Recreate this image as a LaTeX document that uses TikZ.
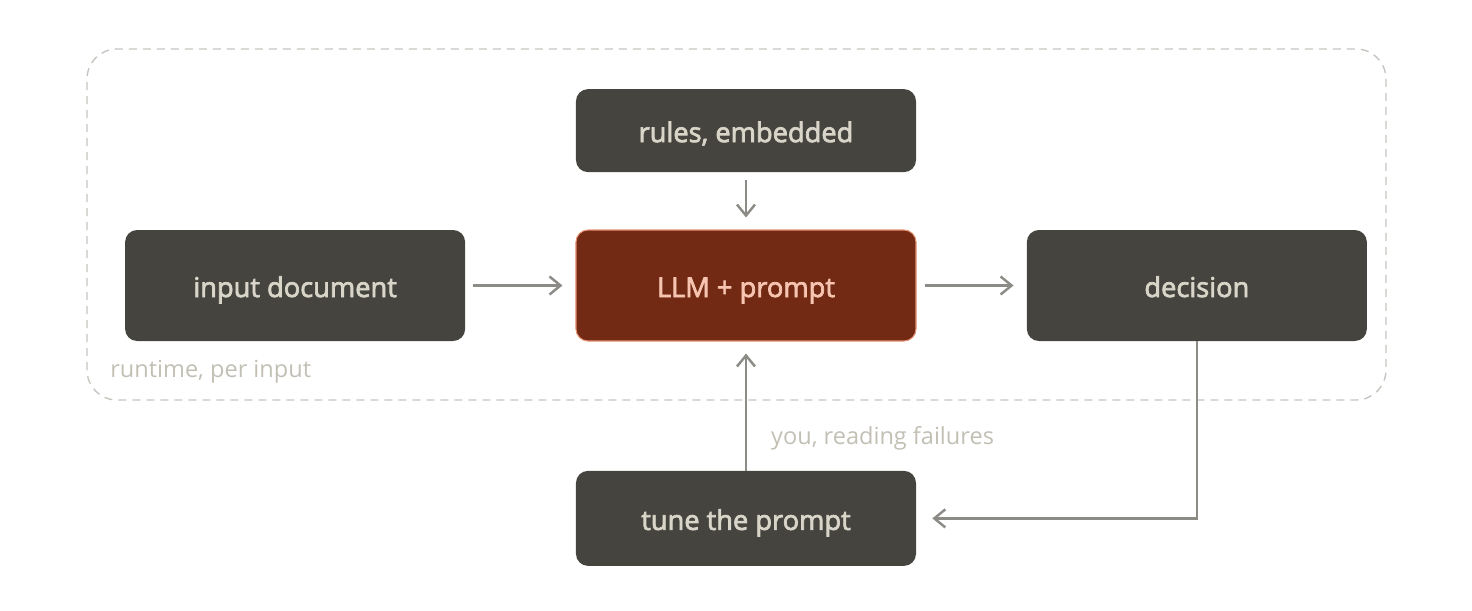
\documentclass[tikz,border=0pt]{standalone}
\usepackage{fontspec}
\setsansfont{Open Sans}
\newfontfamily\boxface[FakeBold=2.6]{Open Sans}
\usetikzlibrary{positioning, arrows.meta}

\definecolor{boxfill}{RGB}{69,68,63}
\definecolor{boxtext}{RGB}{217,213,201}
\definecolor{llmfill}{RGB}{114,42,20}
\definecolor{llmdraw}{RGB}{229,146,114}
\definecolor{llmtext}{RGB}{246,196,176}
\definecolor{arrowcol}{RGB}{140,139,133}
\definecolor{framecol}{RGB}{198,197,192}
\definecolor{labelcol}{RGB}{194,192,181}

\begin{document}
\begin{tikzpicture}[
    font=\sffamily,
    box/.style={rectangle, rounded corners=0.24cm, fill=boxfill, text=boxtext, minimum width=6.8cm, minimum height=2.22cm, align=center, text height=0.48cm, text depth=0.02cm, font=\boxface\fontsize{15.5}{18}\selectfont},
    llm/.style={box, fill=llmfill, draw=llmdraw, line width=0.6pt, text=llmtext},
    arrow/.style={-{Straight Barb[length=0.22cm, width=0.36cm]}, line width=1.4pt, draw=arrowcol},
    note/.style={text=labelcol, inner sep=0pt, font=\sffamily\fontsize{13.4}{16}\selectfont}
]
\useasboundingbox (-14.92,-6.49) rectangle (14.52,5.71);

% Runtime row
\node[llm] (llm) at (0,0) {LLM + prompt};
\node[box, left=2.2cm of llm] (input) {input document};
\node[box, right=2.2cm of llm] (decision) {decision};
\node[box, minimum height=1.66cm, above=1.14cm of llm] (rules) {rules, embedded};

\draw[arrow, shorten <=0.16cm, shorten >=0.26cm] (input) -- (llm);
\draw[arrow, shorten <=0.16cm, shorten >=0.26cm] (llm) -- (decision);
\draw[arrow, shorten <=0.16cm, shorten >=0.24cm] (rules) -- (llm);

% Runtime frame
\draw[framecol, line width=0.8pt, dash pattern=on 0.16cm off 0.12cm, rounded corners=0.6cm]
    (-13.18,-2.29) rectangle (12.8,4.73);
\node[note, anchor=west] (runtime) at (-12.72,-1.73) {runtime, per input};

% Tuning loop
\node[box, minimum height=1.9cm, below=2.58cm of llm] (tune) {tune the prompt};
\draw[arrow, shorten >=0.24cm] (tune) -- node[note, pos=0.25, right=0.48cm] {you, reading failures} (llm);
\draw[arrow, shorten >=0.32cm] (decision) |- (tune);

\end{tikzpicture}
\end{document}
